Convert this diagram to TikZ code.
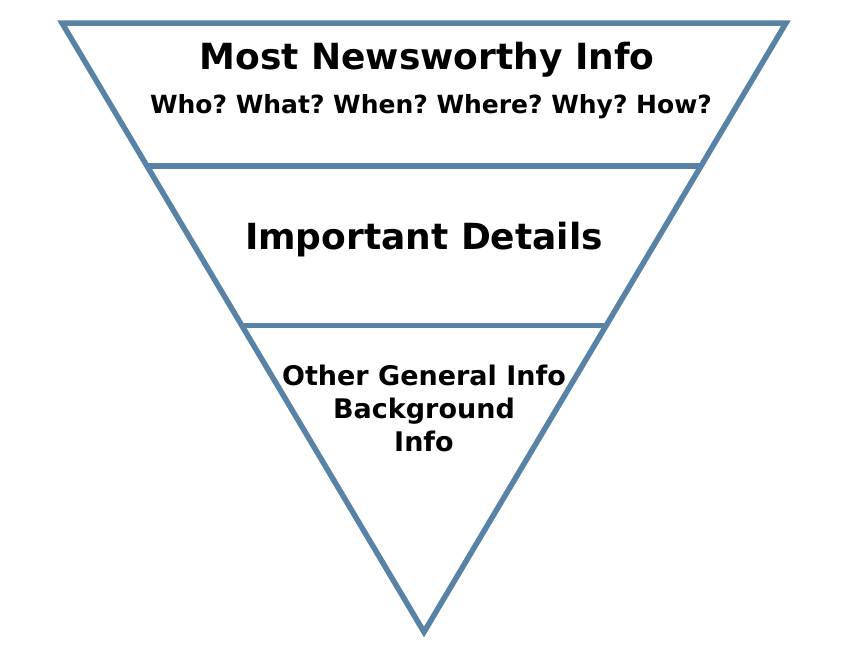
\documentclass[tikz,border=0pt]{standalone}
\usepackage{fontspec}
\setmainfont{DejaVu Sans}
\usetikzlibrary{calc}
\definecolor{pyramidblue}{RGB}{89,131,166}
\tikzstyle{edge} = [draw=pyramidblue, line width=5.5pt, line join=miter]
\tikzstyle{heading} = [font=\bfseries\fontsize{36}{40}\selectfont, text centered]
\tikzstyle{subheading} = [font=\bfseries\frenchspacing\fontsize{25}{30}\selectfont, text centered]
\tikzstyle{bodytext} = [font=\bfseries\fontsize{27}{33}\selectfont, align=center]

\begin{document}
\begin{tikzpicture}[x=1pt, y=-1pt]
\useasboundingbox (0,0) rectangle (848,657);

% --- Triangle corners ---
\coordinate (topleft) at (62,23);
\coordinate (topright) at (786,23);
\coordinate (apex) at (424,632);

% --- Layer dividers ---
\coordinate (divAleft) at ($(topleft)!0.235!(apex)$);
\coordinate (divAright) at ($(topright)!0.235!(apex)$);
\coordinate (divBleft) at ($(topleft)!0.497!(apex)$);
\coordinate (divBright) at ($(topright)!0.497!(apex)$);

\draw [edge] (topleft) -- (topright) -- (apex) -- cycle;
\draw [edge] (divAleft) -- (divAright);
\draw [edge] (divBleft) -- (divBright);

% --- Labels ---
\node (newsworthy) [heading] at (427,60) {Most Newsworthy Info};
\node (questions) [subheading] at (431,107) {Who? What? When? Where? Why? How?};
\node (details) [heading] at (424,240) {Important Details};
\node (background) [bodytext] at (424,408) {Other General Info\\Background\\Info};

\end{tikzpicture}
\end{document}
